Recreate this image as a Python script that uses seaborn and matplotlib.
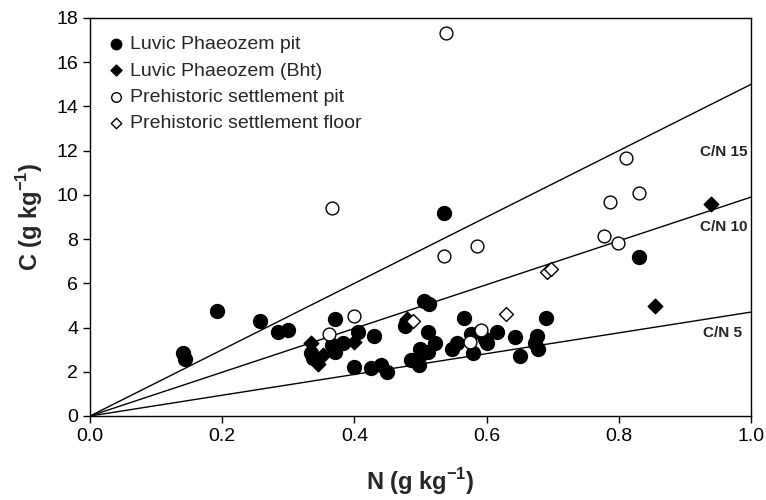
import pandas as pd
import numpy as np
import matplotlib
matplotlib.use("Agg")
import matplotlib.pyplot as plt
import seaborn as sns

# Luvic Phaeozem pit (filled circles)
pit_n = [0.141, 0.144, 0.192, 0.257, 0.285, 0.300, 0.335, 0.337, 0.366, 0.371,
         0.371, 0.382, 0.406, 0.400, 0.430, 0.425, 0.440, 0.449, 0.478, 0.477,
         0.485, 0.497, 0.499, 0.504, 0.512, 0.505, 0.513, 0.511, 0.522, 0.536,
         0.547, 0.555, 0.565, 0.577, 0.590, 0.598, 0.600, 0.580, 0.615, 0.643,
         0.650, 0.676, 0.673, 0.678, 0.690, 0.831]
pit_c = [2.87, 2.57, 4.76, 4.30, 3.80, 3.91, 2.83, 2.61, 3.20, 2.90,
         4.38, 3.32, 3.80, 2.22, 3.61, 2.17, 2.30, 1.99, 4.20, 4.05,
         2.52, 2.30, 3.05, 2.83, 2.90, 5.20, 5.08, 3.80, 3.31, 9.20,
         3.05, 3.31, 4.41, 3.73, 3.80, 3.46, 3.31, 2.83, 3.80, 3.58,
         2.70, 3.60, 3.28, 3.02, 4.41, 7.20]

# Luvic Phaeozem (Bht) (filled diamonds)
bht_n = [0.334, 0.345, 0.352, 0.400, 0.480, 0.855, 0.940]
bht_c = [3.32, 2.37, 2.75, 3.35, 4.40, 4.98, 9.59]

# Prehistoric settlement pit (open circles)
spit_n = [0.361, 0.399, 0.366, 0.536, 0.539, 0.575, 0.592, 0.585, 0.778, 0.786,
          0.798, 0.811, 0.830]
spit_c = [3.70, 4.53, 9.42, 7.23, 17.32, 3.35, 3.91, 7.69, 8.15, 9.69,
          7.81, 11.66, 10.10]

# Prehistoric settlement floor (open diamonds)
floor_n = [0.489, 0.629, 0.692, 0.697]
floor_c = [4.30, 4.62, 6.52, 6.63]

# C/N reference lines (slope as drawn) and their labels
cn_slopes = [15.0, 9.9, 4.7]
cn_labels = ["C/N 15", "C/N 10", "C/N 5"]

x_ticks = [0.0, 0.2, 0.4, 0.6, 0.8, 1.0]
y_ticks = list(range(0, 19, 2))

sns.set_style("ticks")
plt.rcParams["font.family"] = ["Liberation Sans", "DejaVu Sans"]
plt.rcParams["mathtext.fontset"] = "custom"
plt.rcParams["mathtext.bf"] = "Liberation Sans:bold"
plt.rcParams["mathtext.rm"] = "Liberation Sans"

fig = plt.figure(figsize=(7.66, 5.0), dpi=100)
ax = fig.add_axes([0.1175, 0.168, 0.863, 0.796])

# reference lines
line_x = np.array([0.0, 1.0])
for slope in cn_slopes:
    sns.lineplot(x=line_x, y=line_x * slope, ax=ax, color="black", lw=1.0, zorder=1)

groups = [
    ("Luvic Phaeozem pit", pit_n, pit_c, "o", "black", 100),
    ("Luvic Phaeozem (Bht)", bht_n, bht_c, "D", "black", 55),
    ("Prehistoric settlement pit", spit_n, spit_c, "o", "white", 85),
    ("Prehistoric settlement floor", floor_n, floor_c, "D", "white", 50),
]
for label, xs, ys, mk, fc, size in groups:
    df = pd.DataFrame({"N": xs, "C": ys})
    sns.scatterplot(data=df, x="N", y="C", ax=ax, marker=mk, s=size,
                    color=fc, edgecolor="black", linewidth=1.0,
                    label=label, zorder=3)

# line labels at right edge
label_pos = [(0.959, 11.95), (0.959, 8.55), (0.957, 3.75)]
for (lx, ly), txt in zip(label_pos, cn_labels):
    ax.text(lx, ly, txt, ha="center", va="center", fontsize=11,
            fontweight="bold")

ax.set_xlim(0, 1.0)
ax.set_ylim(0, 18)
ax.set_xticks(x_ticks)
ax.set_xticklabels([f"{t:.1f}" for t in x_ticks])
ax.set_yticks(y_ticks)
ax.tick_params(axis="both", direction="out", length=5, width=1,
               labelsize=14, colors="black")
for sp in ax.spines.values():
    sp.set_visible(True)
    sp.set_color("black")
    sp.set_linewidth(1.0)

ax.set_xlabel(r"N (g kg$^{\mathbf{-1}}$)", fontsize=17, fontweight="bold",
              labelpad=15)
ax.set_ylabel(r"C (g kg$^{\mathbf{-1}}$)", fontsize=17, fontweight="bold",
              labelpad=8)

ax.legend(loc="upper left", frameon=False, fontsize=14, markerscale=0.75,
          handletextpad=0.05, labelspacing=0.45, borderaxespad=0.3,
          handlelength=1.3, bbox_to_anchor=(0.0, 0.99))

fig.savefig("out.png", dpi=100)
